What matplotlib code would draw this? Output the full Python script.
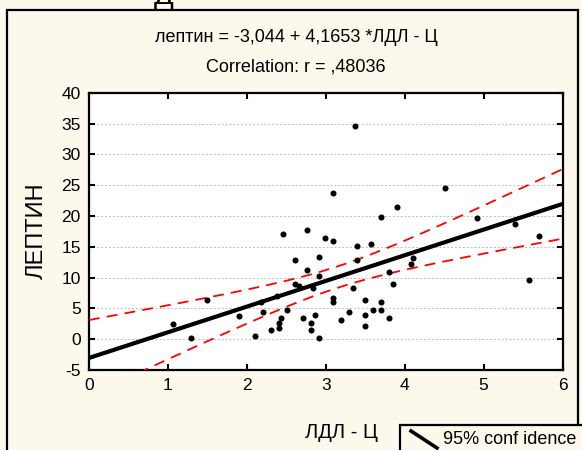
import numpy as np
import matplotlib
matplotlib.use("Agg")
import matplotlib.pyplot as plt
from matplotlib.patches import Rectangle
from matplotlib.lines import Line2D

plt.rcParams['font.family'] = ['Liberation Sans', 'DejaVu Sans']

# ЛДЛ - Ц (x) and лептин (y) observations
ldl = [1.065, 1.29, 1.50, 1.90, 2.10, 2.18, 2.205, 2.31, 2.38, 2.41,
       2.41, 2.43, 2.455, 2.51, 2.61, 2.61, 2.66, 2.71, 2.76, 2.76,
       2.81, 2.81, 2.84, 2.86, 2.915, 2.915, 2.915, 2.99, 3.09, 3.09,
       3.09, 3.09, 3.19, 3.30, 3.35, 3.37, 3.40, 3.40, 3.50, 3.50,
       3.50, 3.57, 3.60, 3.70, 3.70, 3.70, 3.80, 3.80, 3.85, 3.90,
       4.08, 4.11, 4.51, 4.92, 5.40, 5.58, 5.70]
leptin = [2.45, 0.15, 6.35, 3.7, 0.45, 6.0, 4.35, 1.45, 7.05, 2.7,
          1.75, 3.5, 17.05, 4.7, 12.8, 8.9, 8.6, 3.4, 17.65, 11.2,
          2.7, 1.45, 8.25, 4.0, 13.4, 10.2, 0.15, 16.35, 23.8, 16.0,
          6.7, 6.0, 3.05, 4.35, 8.25, 34.55, 15.05, 12.8, 6.3, 4.0,
          2.1, 15.4, 4.7, 19.9, 6.0, 4.7, 10.85, 3.4, 8.9, 21.5,
          12.15, 13.1, 24.5, 19.6, 18.7, 9.55, 16.7]

intercept = -3.044
slope = 4.1653
r_value = ",48036"

x_ticks = [0, 1, 2, 3, 4, 5, 6]
y_ticks = [-5, 0, 5, 10, 15, 20, 25, 30, 35, 40]

bg = '#fdf8ec'

x = np.asarray(ldl)
y = np.asarray(leptin)
n = len(x)

# 95% confidence band of the mean around the fitted line
xs = np.linspace(0, 6, 200)
fit = intercept + slope * xs
resid = y - (intercept + slope * x)
s = np.sqrt(np.sum(resid ** 2) / (n - 2))
sxx = np.sum((x - x.mean()) ** 2)
t_crit = 2.004
half = t_crit * s * np.sqrt(1.0 / n + (xs - x.mean()) ** 2 / sxx)

fig = plt.figure(figsize=(5.82, 4.5), dpi=100, facecolor=bg)
W, H = 582.0, 450.0

ax = fig.add_axes([89 / W, 1 - 370 / H, (562.5 - 89) / W, (370 - 92.7) / H])
ax.set_facecolor('white')

for yt in y_ticks[1:-1]:
    ax.axhline(yt, color='#bdbdbd', lw=0.7, ls=(0, (2, 2)), zorder=1)

ax.scatter(x, y, s=19, color='black', zorder=4, linewidths=0)
ax.plot(xs, fit, color='black', lw=3.0, zorder=3, solid_capstyle='butt')
ax.plot(xs, fit + half, color='#ff0000', lw=1.3, ls=(0, (6, 4)), zorder=3)
ax.plot(xs, fit - half, color='#ff0000', lw=1.3, ls=(0, (6, 4)), zorder=3)

ax.set_xlim(0, 6)
ax.set_ylim(-5, 40)
ax.set_xticks(x_ticks)
ax.set_yticks(y_ticks)
ax.set_xticklabels([str(v) for v in x_ticks], fontsize=12.5)
ax.set_yticklabels([str(v) for v in y_ticks], fontsize=12.5)
ax.tick_params(direction='in', length=4, width=1.5, top=True, right=True,
               pad=6, colors='black')
for sp in ax.spines.values():
    sp.set_linewidth(1.6)
    sp.set_color('black')

fig.text(341 / W, 1 - 432 / H, 'ЛДЛ - Ц', ha='center', va='center',
         fontsize=14.5)
fig.text(37 / W, 1 - 231 / H, 'ЛЕПТИН', ha='center', va='center',
         rotation=90, fontsize=17)

fig.text(296 / W, 1 - 37 / H, 'лептин = -3,044 + 4,1653 *ЛДЛ - Ц',
         ha='center', va='center', fontsize=13)
fig.text(296 / W, 1 - 67 / H, 'Correlation: r = ' + r_value,
         ha='center', va='center', fontsize=13)

# heading above the frame, cut by the top edge
fig.text(164 / W, 1 - 4 / H, 'Д', ha='center', va='baseline', fontsize=21)

# outer frame
frame = Rectangle((7 / W, -0.05), (578 - 7) / W, 0.05 + 1 - 10 / H,
                  transform=fig.transFigure, fill=False, lw=1.6,
                  edgecolor='black', zorder=0)
fig.patches.append(frame)

# legend box
lbox = Rectangle((400 / W, -0.05), (600 - 400) / W, 0.05 + 1 - 425 / H,
                 transform=fig.transFigure, facecolor=bg, lw=1.6,
                 edgecolor='black', zorder=5)
fig.patches.append(lbox)
fig.lines.append(Line2D([411 / W, 437 / W], [1 - 431 / H, 1 - 448 / H],
                        transform=fig.transFigure, color='black', lw=2.6,
                        zorder=6))
fig.text(443 / W, 1 - 440 / H, '95% conf idence', ha='left', va='center',
         fontsize=13, zorder=7)

fig.savefig('out.png', dpi=100, facecolor=bg)
